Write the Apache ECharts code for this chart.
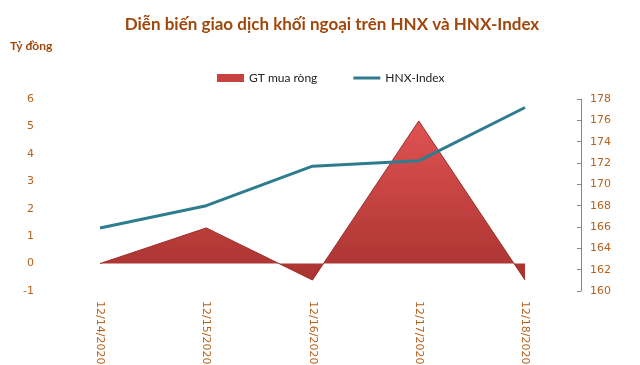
<!DOCTYPE html>
<html><head><meta charset="utf-8">
<script src="https://cdn.jsdelivr.net/npm/echarts@6/dist/echarts.min.js"></script>
<style>html,body{margin:0;padding:0;background:#fff}#c{width:640px;height:365px}</style>
</head><body><div id="c"></div>
<script>
var categories = ['12/14/2020','12/15/2020','12/16/2020','12/17/2020','12/18/2020'];
var netBuy = [0, 1.3, -0.6, 5.2, -0.6];
var hnxIndex = [165.9, 168.0, 171.7, 172.2, 177.2];
var leftTicks = {min: -1, max: 6, interval: 1};
var rightTicks = {min: 160, max: 178, interval: 2};

var labelColor = '#b5621d';
var chart = echarts.init(document.getElementById('c'));
chart.setOption({
  animation: false,
  title: {
    text: 'Diễn biến giao dịch khối ngoại trên HNX và HNX-Index',
    left: 327, top: 11, textAlign: 'center',
    textStyle: {fontFamily: 'Lato', fontSize: 17, fontWeight: 'bold', color: '#a0480c'}
  },
  graphic: [{type: 'text', left: 10, top: 40, style: {text: 'Tỷ đồng', fontFamily: 'Lato', fontSize: 12, fontWeight: 'bold', fill: '#a0480c'}}],
  legend: {
    top: 67, left: 212, itemGap: 36, itemWidth: 27, itemHeight: 8,
    textStyle: {fontFamily: 'Lato', fontSize: 12, color: '#222'},
    data: [{name: 'GT mua ròng', icon: 'rect'}, {name: 'HNX-Index', icon: 'path://M0,0 L27,0 L27,3 L0,3 Z'}]
  },
  grid: {left: 100, right: 115, top: 99, bottom: 74, containLabel: false, outerBoundsMode: 'none'},
  xAxis: {
    type: 'category', data: categories, boundaryGap: false,
    axisLine: {show: false}, axisTick: {show: false},
    axisLabel: {rotate: -90, margin: 10, color: labelColor, fontFamily: 'DejaVu Sans', fontSize: 11}
  },
  yAxis: [{
    type: 'value', min: leftTicks.min, max: leftTicks.max, interval: leftTicks.interval,
    axisLine: {show: false}, axisTick: {show: false}, splitLine: {show: false},
    axisLabel: {margin: 66, color: labelColor, fontFamily: 'DejaVu Sans', fontSize: 11}
  }, {
    type: 'value', min: rightTicks.min, max: rightTicks.max, interval: rightTicks.interval,
    position: 'right', offset: 56,
    axisLine: {show: true, lineStyle: {color: '#888'}}, axisTick: {show: true, inside: true, length: 4, lineStyle: {color: '#888'}},
    splitLine: {show: false},
    axisLabel: {margin: 9, color: labelColor, fontFamily: 'DejaVu Sans', fontSize: 11}
  }],
  series: [{
    name: 'GT mua ròng', type: 'line', yAxisIndex: 0, data: netBuy,
    symbol: 'none', lineStyle: {width: 1, color: '#9a2e2a'},
    itemStyle: {color: '#c94040'},
    areaStyle: {opacity: 1, color: new echarts.graphic.LinearGradient(0, 0, 0, 1, [
      {offset: 0, color: '#e05252'}, {offset: 1, color: '#a83330'}])}
  }, {
    name: 'HNX-Index', type: 'line', yAxisIndex: 1, data: hnxIndex,
    symbol: 'none', lineStyle: {width: 3, color: '#2e7d8f'}, itemStyle: {color: '#2e7d8f'}
  }]
});
</script></body></html>
